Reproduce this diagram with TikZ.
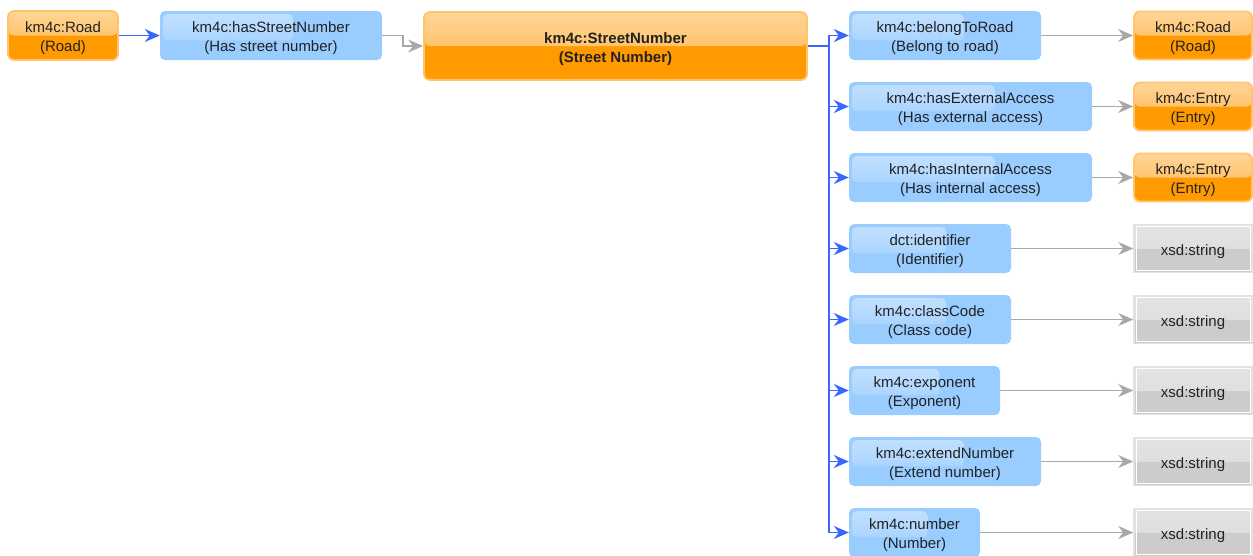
\documentclass[tikz,border=0pt]{standalone}
\usepackage{fontspec}
\setmainfont{Liberation Sans}
\usetikzlibrary{arrows.meta,calc}

\definecolor{clstop}{HTML}{FFD597}
\definecolor{clsmid}{HTML}{FFB547}
\definecolor{clsbot}{HTML}{FF9A00}
\definecolor{clsedge}{HTML}{FFC56E}
\definecolor{propfill}{HTML}{99CCFF}
\definecolor{proplight}{HTML}{C4E1FF}
\definecolor{dtop}{HTML}{E4E4E4}
\definecolor{dmid}{HTML}{D9D9D9}
\definecolor{dbot}{HTML}{CCCCCC}
\definecolor{dedge}{HTML}{E2E2E2}
\definecolor{linkblue}{HTML}{3A66FF}
\definecolor{linkgray}{HTML}{A8A8A8}
\definecolor{ink}{HTML}{222222}

\tikzset{
  lbl/.style={font=\fontsize{15}{19}\selectfont, text=ink, align=center, inner sep=0pt,
    text height=36pt, text depth=3.2pt},
  cls/.style={lbl, rounded corners=6pt, draw=clsedge, line width=1.8pt, fill=clsbot,
    minimum height=49pt,
    path picture={\shade[top color=clstop, bottom color=clsmid]
      (path picture bounding box.north west) rectangle (path picture bounding box.east);}},
  prop/.style={lbl, rounded corners=5pt, fill=propfill, minimum height=49pt,
    path picture={\shade[rounded corners=5pt, top color=proplight, bottom color=propfill]
      ([shift={(3pt,-3pt)}]path picture bounding box.north west) rectangle
      ($(path picture bounding box.north west)!0.6!(path picture bounding box.south east)$);}},
  dtype/.style={lbl, text height=17pt, draw=dedge, line width=1.6pt, fill=dbot,
    minimum width=118pt, minimum height=48pt,
    path picture={\shade[top color=dtop, bottom color=dmid]
      (path picture bounding box.north west) rectangle (path picture bounding box.east);
      \draw[white, line width=0.6pt]
      ([shift={(2pt,-2pt)}]path picture bounding box.north west) rectangle
      ([shift={(-2pt,2pt)}]path picture bounding box.south east);}},
  tipshape/.style={-{Stealth[length=15pt, width=13pt, inset=5pt]}},
  bluelink/.style={draw=linkblue, line width=1.3pt, tipshape},
  graylink/.style={draw=linkgray, line width=1.3pt, tipshape},
  trunkline/.style={draw=linkblue, line width=1.3pt}
}

\begin{document}
\begin{tikzpicture}[x=1pt, y=-1pt]
  \fill[white] (0,0) rectangle (1253,555);
  \useasboundingbox (0,0) rectangle (1253,555);

  % domain class, linking property and the described class
  \node[cls, minimum width=110pt] (road) at (63,35.5) {km4c:Road\\(Road)};
  \node[prop, minimum width=222pt] (hsn) at (271,35.5) {km4c:hasStreetNumber\\(Has street number)};
  \node[cls, minimum width=383pt, minimum height=68pt, font=\fontsize{15}{19}\selectfont\bfseries]
    (sn) at (615.5,46) {km4c:StreetNumber\\(Street Number)};

  % properties of km4c:StreetNumber
  \node[prop, minimum width=192pt] (p1) at (945,35.5)   {km4c:belongToRoad\\(Belong to road)};
  \node[prop, minimum width=243pt] (p2) at (970.5,106.5) {km4c:hasExternalAccess\\(Has external access)};
  \node[prop, minimum width=243pt] (p3) at (970.5,177.5) {km4c:hasInternalAccess\\(Has internal access)};
  \node[prop, minimum width=162pt] (p4) at (930,248.5)  {dct:identifier\\(Identifier)};
  \node[prop, minimum width=162pt] (p5) at (930,319.5)  {km4c:classCode\\(Class code)};
  \node[prop, minimum width=151pt] (p6) at (924.5,390.5) {km4c:exponent\\(Exponent)};
  \node[prop, minimum width=192pt] (p7) at (945,461.5)  {km4c:extendNumber\\(Extend number)};
  \node[prop, minimum width=131pt] (p8) at (914.5,532.5) {km4c:number\\(Number)};

  % ranges
  \node[cls, minimum width=118pt, minimum height=48pt] (r1) at (1193,35.5)  {km4c:Road\\(Road)};
  \node[cls, minimum width=118pt, minimum height=48pt] (r2) at (1193,106.5) {km4c:Entry\\(Entry)};
  \node[cls, minimum width=118pt, minimum height=48pt] (r3) at (1193,177.5) {km4c:Entry\\(Entry)};
  \node[dtype] (r4) at (1193,248.5) {xsd:string};
  \node[dtype] (r5) at (1193,319.5) {xsd:string};
  \node[dtype] (r6) at (1193,390.5) {xsd:string};
  \node[dtype] (r7) at (1193,461.5) {xsd:string};
  \node[dtype] (r8) at (1193,532.5) {xsd:string};

  % connectors
  \draw[bluelink] (road) -- (hsn);
  \coordinate (bend) at (403,35.5);
  \draw[graylink] (hsn.east) -- (bend) |- (sn.west);

  \coordinate (trunk) at (829,46);
  \draw[trunkline] (sn.east) -- (trunk);
  \foreach \p in {p1,p2,p3,p4,p5,p6,p7,p8}{
    \draw[bluelink] (trunk) |- (\p.west);
  }
  \foreach \i in {1,...,8}{
    \draw[graylink] (p\i.east) -- (r\i.west);
  }
\end{tikzpicture}
\end{document}
